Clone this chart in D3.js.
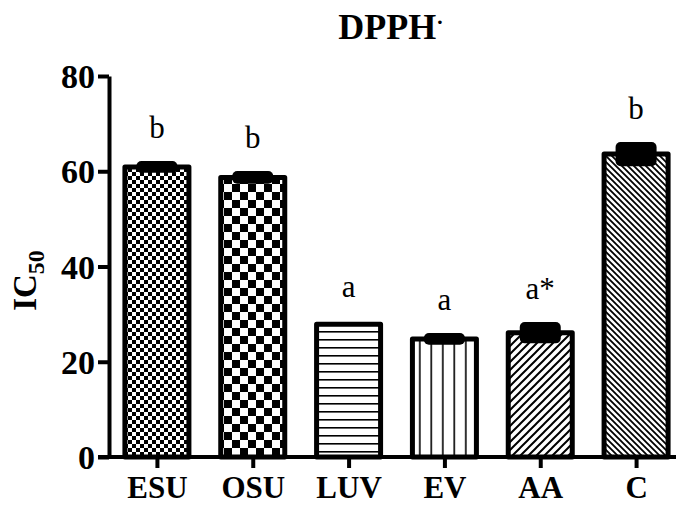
<!DOCTYPE html>
<html>
<head>
<meta charset="utf-8">
<script src="https://cdn.jsdelivr.net/npm/d3@7"></script>
<style>
  html, body { margin: 0; padding: 0; background: #fff; }
  svg { display: block; }
  text { font-family: "Liberation Serif", "Times New Roman", serif; fill: #000; }
</style>
</head>
<body>
<svg id="chart" width="676" height="509"></svg>
<script>
// IC50 values (mean and SD) for the DPPH radical scavenging assay
const categories = ["ESU", "OSU", "LUV", "EV", "AA", "C"];
const means = [60.9, 58.7, 27.9, 24.8, 26.1, 63.6];
const sds = [0.4, 0.5, 0, 0.4, 1.4, 1.7];
const letters = ["b", "b", "a", "a", "a*", "b"];
const yTicks = [0, 20, 40, 60, 80];
const patterns = ["checkFine", "checkCoarse", "hLines", "vLines", "diagUp", "diagDown"];

const svg = d3.select("#chart");
const margin = { left: 109, right: -8, top: 76, bottom: 52 };
const W = 676, H = 509;

const x = d3.scalePoint()
  .domain(categories)
  .range([margin.left, W - margin.right])
  .padding(0.5);
const y = d3.scaleLinear()
  .domain([0, 80])
  .range([H - margin.bottom, margin.top]);

const barW = 64;

// Fill patterns
const defs = svg.append("defs");
function pat(id, size) {
  return defs.append("pattern").attr("id", id)
    .attr("patternUnits", "userSpaceOnUse")
    .attr("width", size).attr("height", size);
}
{
  const p = pat("checkFine", 8);
  p.append("rect").attr("width", 8).attr("height", 8).attr("fill", "#fff");
  p.append("rect").attr("width", 4).attr("height", 4).attr("fill", "#000");
  p.append("rect").attr("x", 4).attr("y", 4).attr("width", 4).attr("height", 4).attr("fill", "#000");
}
{
  const p = pat("checkCoarse", 16);
  p.append("rect").attr("width", 16).attr("height", 16).attr("fill", "#fff");
  p.append("rect").attr("width", 8).attr("height", 8).attr("fill", "#000");
  p.append("rect").attr("x", 8).attr("y", 8).attr("width", 8).attr("height", 8).attr("fill", "#000");
}
{
  const p = pat("hLines", 8);
  p.append("rect").attr("width", 8).attr("height", 8).attr("fill", "#fff");
  p.append("rect").attr("y", 3).attr("width", 8).attr("height", 1.6).attr("fill", "#000");
}
{
  const p = pat("vLines", 11.5);
  p.append("rect").attr("width", 11.5).attr("height", 11.5).attr("fill", "#fff");
  p.append("rect").attr("x", 5).attr("width", 1.6).attr("height", 11.5).attr("fill", "#000");
}
{
  const p = pat("diagUp", 8);
  p.append("rect").attr("width", 8).attr("height", 8).attr("fill", "#fff");
  p.append("path").attr("d", "M-2,2 L2,-2 M0,8 L8,0 M6,10 L10,6")
    .attr("stroke", "#000").attr("stroke-width", 2);
}
{
  const p = pat("diagDown", 6);
  p.append("rect").attr("width", 6).attr("height", 6).attr("fill", "#fff");
  p.append("path").attr("d", "M-2,4 L2,8 M0,0 L6,6 M4,-2 L8,2")
    .attr("stroke", "#000").attr("stroke-width", 1.8);
}

const data = categories.map((c, i) => ({
  cat: c, mean: means[i], sd: sds[i], letter: letters[i], pattern: patterns[i]
}));

// Bars
svg.append("g").selectAll("rect").data(data).join("rect")
  .attr("x", d => x(d.cat) - barW / 2)
  .attr("y", d => y(d.mean))
  .attr("width", barW)
  .attr("height", d => y(0) - y(d.mean))
  .attr("fill", d => `url(#${d.pattern})`)
  .attr("stroke", "#000")
  .attr("stroke-width", 5)
  .attr("stroke-linejoin", "round");

// Error bars (thick caps merge into a solid block)
const capW = 41, capT = 8;
svg.append("g").selectAll("rect").data(data.filter(d => d.sd > 0)).join("rect")
  .attr("x", d => x(d.cat) - capW / 2)
  .attr("y", d => y(d.mean + d.sd) - capT / 2)
  .attr("width", capW)
  .attr("height", d => y(d.mean - d.sd) - y(d.mean + d.sd) + capT)
  .attr("rx", 5)
  .attr("fill", "#000");

// Significance letters
svg.append("g").selectAll("text").data(data).join("text")
  .attr("x", d => x(d.cat))
  .attr("y", d => y(d.mean + d.sd) - 27)
  .attr("text-anchor", "middle")
  .attr("font-size", 31)
  .text(d => d.letter);

// Y axis
const yAxis = svg.append("g")
  .attr("transform", `translate(${margin.left},0)`)
  .call(d3.axisLeft(y).tickValues(yTicks).tickSize(11).tickSizeOuter(0).tickPadding(3));
yAxis.select(".domain").attr("stroke-width", 4);
yAxis.selectAll(".tick line").attr("stroke-width", 4);
yAxis.selectAll(".tick text")
  .attr("font-family", "Liberation Serif, serif")
  .attr("font-weight", "bold")
  .attr("font-size", 34)
  .attr("dy", "0.34em");

// X axis
const xAxis = svg.append("g")
  .attr("transform", `translate(0,${y(0)})`)
  .call(d3.axisBottom(x).tickSize(11).tickSizeOuter(0).tickPadding(10));
xAxis.select(".domain").attr("d", `M${margin.left - 11},0H${W}`).attr("stroke-width", 4);
xAxis.selectAll(".tick line").attr("stroke-width", 4);
xAxis.selectAll(".tick text")
  .attr("font-family", "Liberation Serif, serif")
  .attr("font-weight", "bold")
  .attr("font-size", 31)
  .attr("dy", "0.66em");

// Y axis title
const yt = svg.append("text")
  .attr("transform", `translate(36,${(y(0) + y(80)) / 2 + 14}) rotate(-90)`)
  .attr("text-anchor", "middle")
  .attr("font-weight", "bold")
  .attr("font-size", 33);
yt.append("tspan").text("IC");
yt.append("tspan").attr("font-size", 24).attr("dy", 8).text("50");

// Chart title
const t = svg.append("text")
  .attr("x", 391).attr("y", 39)
  .attr("text-anchor", "middle")
  .attr("font-weight", "bold")
  .attr("font-size", 36);
t.append("tspan").text("DPPH");
t.append("tspan").attr("font-size", 22).attr("dy", -10).text("·");
</script>
</body>
</html>
